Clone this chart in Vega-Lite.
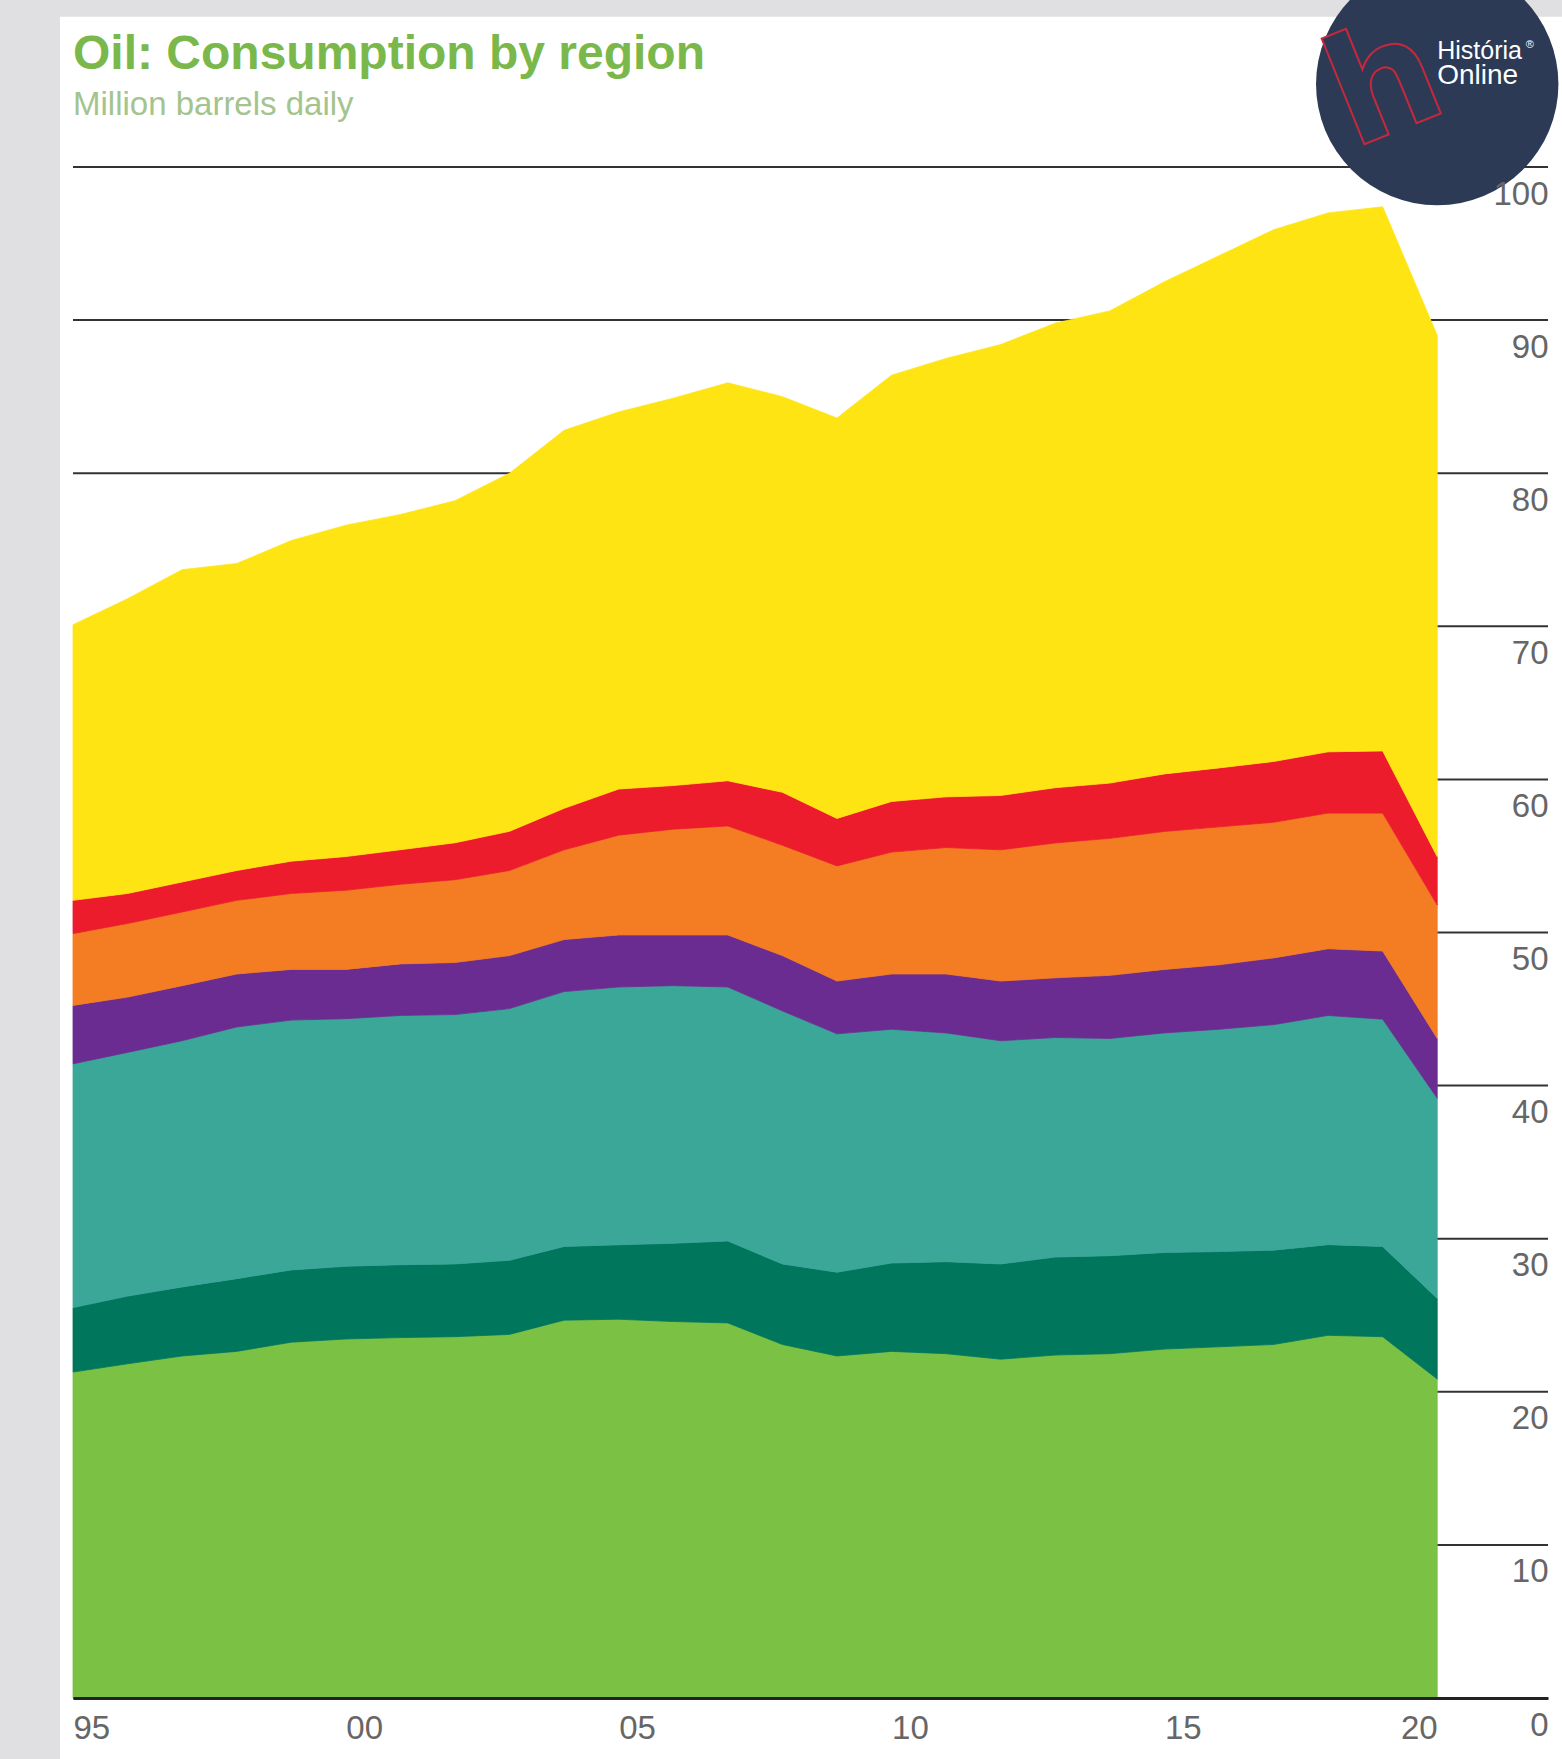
{
  "$schema": "https://vega.github.io/schema/vega-lite/v6.json",
  "width": 1475,
  "height": 1531,
  "autosize": {"type": "none"},
  "padding": {"left": 73, "top": 167, "right": 14, "bottom": 61},
  "background": "#e0e0e2",
  "config": {"view": {"stroke": null}, "font": "Liberation Sans"},
  "title": {
    "text": "Oil: Consumption by region",
    "subtitle": "Million barrels daily",
    "anchor": "start",
    "frame": "group",
    "font": "Liberation Sans",
    "fontSize": 48,
    "fontWeight": "bold",
    "color": "#7bb84b",
    "subtitleFont": "Liberation Sans",
    "subtitleFontSize": 33,
    "subtitleColor": "#a3c48c",
    "subtitlePadding": 10,
    "offset": -159
  },
  "layer": [
    {
      "data": {"values": [{}]},
      "mark": {"type": "rect", "color": "white"},
      "encoding": {"x": {"datum": 1994.762}, "x2": {"datum": 2035}, "y": {"datum": -10}, "y2": {"datum": 109.81}}
    },
    {
      "data": {"values": [{"g": 0}, {"g": 10}, {"g": 20}, {"g": 30}, {"g": 40}, {"g": 50}, {"g": 60}, {"g": 70}, {"g": 80}, {"g": 90}, {"g": 100}]},
      "mark": {"type": "rule", "color": "#333333", "strokeWidth": 2},
      "encoding": {"x": {"datum": 1995}, "x2": {"datum": 2022.03}, "y": {"field": "g", "type": "quantitative"}}
    },
    {
      "data": {
        "values": [
          {"year":1995,"region":"North America","value":21.29},{"year":1995,"region":"S. & Cent. America","value":4.21},{"year":1995,"region":"Europe","value":15.92},{"year":1995,"region":"CIS","value":3.82},{"year":1995,"region":"Middle East","value":4.69},{"year":1995,"region":"Africa","value":2.17},{"year":1995,"region":"Asia Pacific","value":18.0},
          {"year":1996,"region":"North America","value":21.83},{"year":1996,"region":"S. & Cent. America","value":4.42},{"year":1996,"region":"Europe","value":15.92},{"year":1996,"region":"CIS","value":3.61},{"year":1996,"region":"Middle East","value":4.81},{"year":1996,"region":"Africa","value":1.96},{"year":1996,"region":"Asia Pacific","value":19.25},
          {"year":1997,"region":"North America","value":22.34},{"year":1997,"region":"S. & Cent. America","value":4.51},{"year":1997,"region":"Europe","value":16.08},{"year":1997,"region":"CIS","value":3.6},{"year":1997,"region":"Middle East","value":4.81},{"year":1997,"region":"Africa","value":1.96},{"year":1997,"region":"Asia Pacific","value":20.4},
          {"year":1998,"region":"North America","value":22.64},{"year":1998,"region":"S. & Cent. America","value":4.75},{"year":1998,"region":"Europe","value":16.44},{"year":1998,"region":"CIS","value":3.46},{"year":1998,"region":"Middle East","value":4.81},{"year":1998,"region":"Africa","value":1.95},{"year":1998,"region":"Asia Pacific","value":20.05},
          {"year":1999,"region":"North America","value":23.24},{"year":1999,"region":"S. & Cent. America","value":4.72},{"year":1999,"region":"Europe","value":16.32},{"year":1999,"region":"CIS","value":3.31},{"year":1999,"region":"Middle East","value":4.96},{"year":1999,"region":"Africa","value":2.11},{"year":1999,"region":"Asia Pacific","value":20.94},
          {"year":2000,"region":"North America","value":23.45},{"year":2000,"region":"S. & Cent. America","value":4.75},{"year":2000,"region":"Europe","value":16.17},{"year":2000,"region":"CIS","value":3.22},{"year":2000,"region":"Middle East","value":5.17},{"year":2000,"region":"Africa","value":2.2},{"year":2000,"region":"Asia Pacific","value":21.64},
          {"year":2001,"region":"North America","value":23.54},{"year":2001,"region":"S. & Cent. America","value":4.76},{"year":2001,"region":"Europe","value":16.28},{"year":2001,"region":"CIS","value":3.37},{"year":2001,"region":"Middle East","value":5.2},{"year":2001,"region":"Africa","value":2.26},{"year":2001,"region":"Asia Pacific","value":21.89},
          {"year":2002,"region":"North America","value":23.6},{"year":2002,"region":"S. & Cent. America","value":4.75},{"year":2002,"region":"Europe","value":16.29},{"year":2002,"region":"CIS","value":3.4},{"year":2002,"region":"Middle East","value":5.41},{"year":2002,"region":"Africa","value":2.41},{"year":2002,"region":"Asia Pacific","value":22.34},
          {"year":2003,"region":"North America","value":23.75},{"year":2003,"region":"S. & Cent. America","value":4.84},{"year":2003,"region":"Europe","value":16.44},{"year":2003,"region":"CIS","value":3.46},{"year":2003,"region":"Middle East","value":5.56},{"year":2003,"region":"Africa","value":2.56},{"year":2003,"region":"Asia Pacific","value":23.39},
          {"year":2004,"region":"North America","value":24.68},{"year":2004,"region":"S. & Cent. America","value":4.81},{"year":2004,"region":"Europe","value":16.65},{"year":2004,"region":"CIS","value":3.4},{"year":2004,"region":"Middle East","value":5.86},{"year":2004,"region":"Africa","value":2.71},{"year":2004,"region":"Asia Pacific","value":24.69},
          {"year":2005,"region":"North America","value":24.74},{"year":2005,"region":"S. & Cent. America","value":4.86},{"year":2005,"region":"Europe","value":16.84},{"year":2005,"region":"CIS","value":3.4},{"year":2005,"region":"Middle East","value":6.52},{"year":2005,"region":"Africa","value":3.01},{"year":2005,"region":"Asia Pacific","value":24.63},
          {"year":2006,"region":"North America","value":24.59},{"year":2006,"region":"S. & Cent. America","value":5.11},{"year":2006,"region":"Europe","value":16.83},{"year":2006,"region":"CIS","value":3.31},{"year":2006,"region":"Middle East","value":6.91},{"year":2006,"region":"Africa","value":2.85},{"year":2006,"region":"Asia Pacific","value":25.3},
          {"year":2007,"region":"North America","value":24.5},{"year":2007,"region":"S. & Cent. America","value":5.35},{"year":2007,"region":"Europe","value":16.59},{"year":2007,"region":"CIS","value":3.4},{"year":2007,"region":"Middle East","value":7.12},{"year":2007,"region":"Africa","value":2.95},{"year":2007,"region":"Asia Pacific","value":25.99},
          {"year":2008,"region":"North America","value":23.09},{"year":2008,"region":"S. & Cent. America","value":5.26},{"year":2008,"region":"Europe","value":16.53},{"year":2008,"region":"CIS","value":3.61},{"year":2008,"region":"Middle East","value":7.21},{"year":2008,"region":"Africa","value":3.46},{"year":2008,"region":"Asia Pacific","value":25.84},
          {"year":2009,"region":"North America","value":22.34},{"year":2009,"region":"S. & Cent. America","value":5.47},{"year":2009,"region":"Europe","value":15.57},{"year":2009,"region":"CIS","value":3.45},{"year":2009,"region":"Middle East","value":7.52},{"year":2009,"region":"Africa","value":3.1},{"year":2009,"region":"Asia Pacific","value":26.15},
          {"year":2010,"region":"North America","value":22.64},{"year":2010,"region":"S. & Cent. America","value":5.77},{"year":2010,"region":"Europe","value":15.27},{"year":2010,"region":"CIS","value":3.61},{"year":2010,"region":"Middle East","value":7.96},{"year":2010,"region":"Africa","value":3.31},{"year":2010,"region":"Asia Pacific","value":27.84},
          {"year":2011,"region":"North America","value":22.49},{"year":2011,"region":"S. & Cent. America","value":6.01},{"year":2011,"region":"Europe","value":14.94},{"year":2011,"region":"CIS","value":3.85},{"year":2011,"region":"Middle East","value":8.26},{"year":2011,"region":"Africa","value":3.31},{"year":2011,"region":"Asia Pacific","value":28.64},
          {"year":2012,"region":"North America","value":22.13},{"year":2012,"region":"S. & Cent. America","value":6.22},{"year":2012,"region":"Europe","value":14.58},{"year":2012,"region":"CIS","value":3.9},{"year":2012,"region":"Middle East","value":8.57},{"year":2012,"region":"Africa","value":3.55},{"year":2012,"region":"Asia Pacific","value":29.45},
          {"year":2013,"region":"North America","value":22.4},{"year":2013,"region":"S. & Cent. America","value":6.4},{"year":2013,"region":"Europe","value":14.34},{"year":2013,"region":"CIS","value":3.9},{"year":2013,"region":"Middle East","value":8.81},{"year":2013,"region":"Africa","value":3.61},{"year":2013,"region":"Asia Pacific","value":30.34},
          {"year":2014,"region":"North America","value":22.49},{"year":2014,"region":"S. & Cent. America","value":6.4},{"year":2014,"region":"Europe","value":14.19},{"year":2014,"region":"CIS","value":4.12},{"year":2014,"region":"Middle East","value":8.95},{"year":2014,"region":"Africa","value":3.61},{"year":2014,"region":"Asia Pacific","value":30.84},
          {"year":2015,"region":"North America","value":22.79},{"year":2015,"region":"S. & Cent. America","value":6.31},{"year":2015,"region":"Europe","value":14.34},{"year":2015,"region":"CIS","value":4.15},{"year":2015,"region":"Middle East","value":9.01},{"year":2015,"region":"Africa","value":3.76},{"year":2015,"region":"Asia Pacific","value":32.14},
          {"year":2016,"region":"North America","value":22.94},{"year":2016,"region":"S. & Cent. America","value":6.22},{"year":2016,"region":"Europe","value":14.52},{"year":2016,"region":"CIS","value":4.21},{"year":2016,"region":"Middle East","value":9.01},{"year":2016,"region":"Africa","value":3.85},{"year":2016,"region":"Asia Pacific","value":33.45},
          {"year":2017,"region":"North America","value":23.09},{"year":2017,"region":"S. & Cent. America","value":6.16},{"year":2017,"region":"Europe","value":14.73},{"year":2017,"region":"CIS","value":4.36},{"year":2017,"region":"Middle East","value":8.86},{"year":2017,"region":"Africa","value":3.97},{"year":2017,"region":"Asia Pacific","value":34.73},
          {"year":2018,"region":"North America","value":23.69},{"year":2018,"region":"S. & Cent. America","value":5.92},{"year":2018,"region":"Europe","value":14.97},{"year":2018,"region":"CIS","value":4.36},{"year":2018,"region":"Middle East","value":8.86},{"year":2018,"region":"Africa","value":4.0},{"year":2018,"region":"Asia Pacific","value":35.2},
          {"year":2019,"region":"North America","value":23.6},{"year":2019,"region":"S. & Cent. America","value":5.89},{"year":2019,"region":"Europe","value":14.85},{"year":2019,"region":"CIS","value":4.45},{"year":2019,"region":"Middle East","value":9.01},{"year":2019,"region":"Africa","value":4.06},{"year":2019,"region":"Asia Pacific","value":35.54},
          {"year":2020,"region":"North America","value":20.83},{"year":2020,"region":"S. & Cent. America","value":5.27},{"year":2020,"region":"Europe","value":13.07},{"year":2020,"region":"CIS","value":3.91},{"year":2020,"region":"Middle East","value":8.71},{"year":2020,"region":"Africa","value":3.16},{"year":2020,"region":"Asia Pacific","value":34.05}
        ]
      },
      "transform": [
        {"calculate": "indexof(['North America','S. & Cent. America','Europe','CIS','Middle East','Africa','Asia Pacific'], datum.region)", "as": "k"}
      ],
      "mark": {"type": "area", "interpolate": "linear", "strokeWidth": 0.8},
      "encoding": {
        "x": {
          "field": "year",
          "type": "quantitative",
          "scale": {"domain": [1995, 2022.03], "nice": false, "zero": false},
          "axis": {
            "values": [1995, 2000, 2005, 2010, 2015, 2020],
            "labelExpr": "slice(toString(datum.value), 2)",
            "title": null,
            "grid": false,
            "domain": true,
            "domainColor": "#222222",
            "domainWidth": 3,
            "ticks": false,
            "tickSize": 0,
            "labelPadding": 40,
            "labelBaseline": "alphabetic",
            "labelFont": "Liberation Sans",
            "labelFontSize": 33,
            "labelColor": "#666666",
            "labelAlign": {"condition": {"test": "datum.value == 2020", "value": "right"}, "value": "left"},
            "labelFlush": false,
            "labelOverlap": false,
            "zindex": 1
          }
        },
        "y": {
          "field": "value",
          "type": "quantitative",
          "stack": "zero",
          "scale": {"domain": [0, 100], "nice": false},
          "axis": {
            "orient": "right",
            "values": [0, 10, 20, 30, 40, 50, 60, 70, 80, 90, 100],
            "title": null,
            "grid": false,
            "domain": false,
            "ticks": false,
            "tickSize": 0,
            "labelPadding": 0,
            "labelAlign": "right",
            "labelBaseline": "alphabetic",
            "labelOffset": 37,
            "labelFont": "Liberation Sans",
            "labelFontSize": 33,
            "labelColor": "#666666",
            "labelOverlap": false,
            "labelBound": false,
            "zindex": 1
          }
        },
        "color": {
          "field": "region",
          "type": "nominal",
          "scale": {
            "domain": ["North America", "S. & Cent. America", "Europe", "CIS", "Middle East", "Africa", "Asia Pacific"],
            "range": ["#7bc143", "#00765c", "#3aa799", "#6b2c91", "#f47c22", "#ec1c2c", "#ffe414"]
          },
          "legend": null
        },
        "stroke": {
          "field": "region",
          "type": "nominal",
          "scale": {
            "domain": ["North America", "S. & Cent. America", "Europe", "CIS", "Middle East", "Africa", "Asia Pacific"],
            "range": ["#7bc143", "#00765c", "#3aa799", "#6b2c91", "#f47c22", "#ec1c2c", "#ffe414"]
          },
          "legend": null
        },
        "order": {"field": "k", "type": "quantitative", "sort": "ascending"}
      }
    },
    {
      "data": {"values": [{}]},
      "mark": {"type": "point", "shape": "circle", "filled": true, "size": 58757, "color": "#2c3a56", "opacity": 1},
      "encoding": {"x": {"datum": 2020}, "y": {"datum": 105.42}}
    },
    {
      "data": {"values": [{}]},
      "mark": {"type": "text", "text": "h", "font": "DejaVu Sans", "fontSize": 150, "fontWeight": "bold", "angle": -22, "align": "center", "baseline": "middle", "fill": "#2c3a56", "stroke": "#c8283c", "strokeWidth": 2},
      "encoding": {"x": {"datum": 2019.05}, "y": {"datum": 105.2}}
    },
    {
      "data": {"values": [{}]},
      "mark": {"type": "text", "text": "História", "font": "Liberation Sans", "fontSize": 25, "align": "left", "baseline": "alphabetic", "color": "white"},
      "encoding": {"x": {"datum": 2020}, "y": {"datum": 107.04}}
    },
    {
      "data": {"values": [{}]},
      "mark": {"type": "text", "text": "®", "font": "Liberation Sans", "fontSize": 11, "align": "left", "baseline": "alphabetic", "color": "white"},
      "encoding": {"x": {"datum": 2021.62}, "y": {"datum": 107.75}}
    },
    {
      "data": {"values": [{}]},
      "mark": {"type": "text", "text": "Online", "font": "Liberation Sans", "fontSize": 28, "align": "left", "baseline": "alphabetic", "color": "white"},
      "encoding": {"x": {"datum": 2020}, "y": {"datum": 105.42}}
    }
  ]
}
